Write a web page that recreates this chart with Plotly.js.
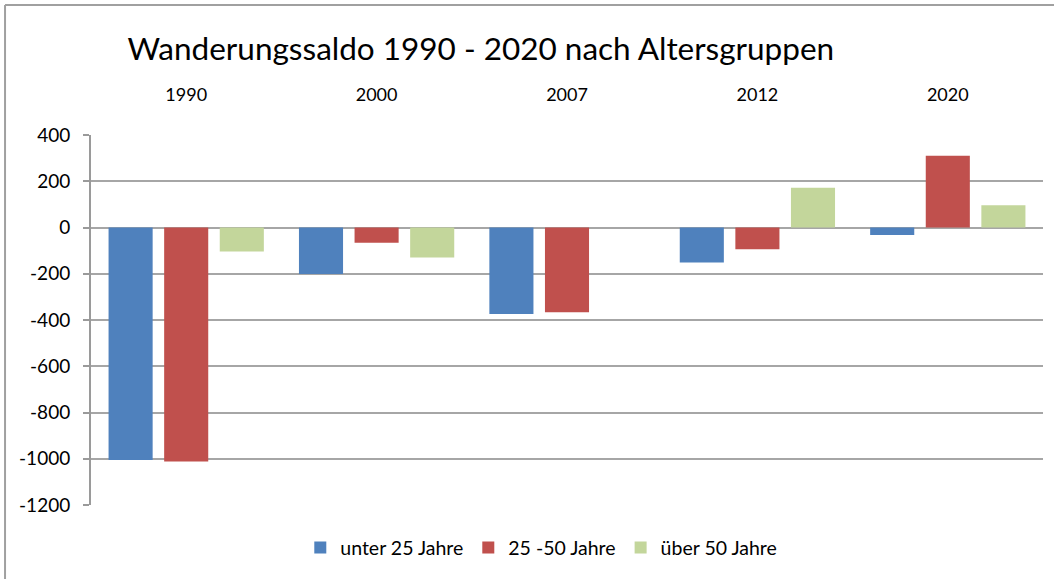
<!DOCTYPE html>
<html>
<head>
<meta charset="utf-8">
<script src="https://cdn.plot.ly/plotly-3.0.1.min.js"></script>
<style>html,body{margin:0;padding:0;background:#fff;}#chart{width:1054px;height:579px;}</style>
</head>
<body>
<div id="chart"></div>
<script>
const years = ["1990", "2000", "2007", "2012", "2020"];
const seriesNames = ["unter 25 Jahre", "25 -50 Jahre", "über 50 Jahre"];
const unter25 = [-1005, -201, -374, -151, -32];
const von25bis50 = [-1012, -66, -367, -94, 310];
const ueber50 = [-104, -130, 0, 172, 96];
const colors = ["#4F81BD", "#C0504D", "#C3D69B"];
const yTicks = [400, 200, 0, -200, -400, -600, -800, -1000, -1200];

const font = "Lato, 'Open Sans', sans-serif";
const data = [unter25, von25bis50, ueber50].map((vals, i) => ({
  type: "bar",
  x: years,
  y: vals,
  name: seriesNames[i],
  marker: {color: colors[i], line: {width: 0}},
  hoverinfo: "x+y+name"
}));

const layout = {
  width: 1054, height: 579,
  margin: {l: 91, r: 11, t: 135, b: 74},
  paper_bgcolor: "#fff", plot_bgcolor: "#fff",
  font: {family: font, color: "#000", size: 17},
  title: {
    text: "Wanderungssaldo 1990 - 2020 nach Altersgruppen",
    font: {family: font, size: 31.5, color: "#000"},
    xref: "container", yref: "container",
    x: 0.121, xanchor: "left", y: 0.915, yanchor: "middle"
  },
  barmode: "group",
  bargap: 0.124,
  bargroupgap: 0.207,
  xaxis: {
    type: "category",
    side: "top",
    showline: false,
    showgrid: false,
    ticks: "",
    ticklabelstandoff: 29,
    tickfont: {family: font, size: 18, color: "#000"}
  },
  yaxis: {
    range: [-1200, 400],
    tickvals: yTicks,
    ticktext: yTicks.map(String),
    showline: true, linecolor: "#9A9A9A", linewidth: 2,
    ticks: "outside", ticklen: 6, tickcolor: "#9A9A9A", tickwidth: 2,
    showgrid: true, gridcolor: "#A6A6A6", gridwidth: 2,
    zeroline: true, zerolinecolor: "#A6A6A6", zerolinewidth: 2,
    ticklabelstandoff: 9,
    tickfont: {family: font, size: 19, color: "#000"}
  },
  legend: {
    orientation: "h",
    x: 0.473, xanchor: "center",
    y: -0.116, yanchor: "middle",
    itemwidth: 30,
    font: {family: font, size: 19.5, color: "#000"},
    traceorder: "normal"
  },
  shapes: [
    {type: "line", xref: "paper", yref: "paper", x0: -0.0903, x1: 1.02, y0: 1.3514, y1: 1.3514, line: {color: "#A0A0A0", width: 2}},
    {type: "line", xref: "paper", yref: "paper", x0: -0.0903, x1: -0.0903, y0: 1.3514, y1: -0.21, line: {color: "#A0A0A0", width: 2}}
  ],
  showlegend: true
};

Plotly.newPlot("chart", data, layout, {displayModeBar: false, responsive: false});
</script>
</body>
</html>
